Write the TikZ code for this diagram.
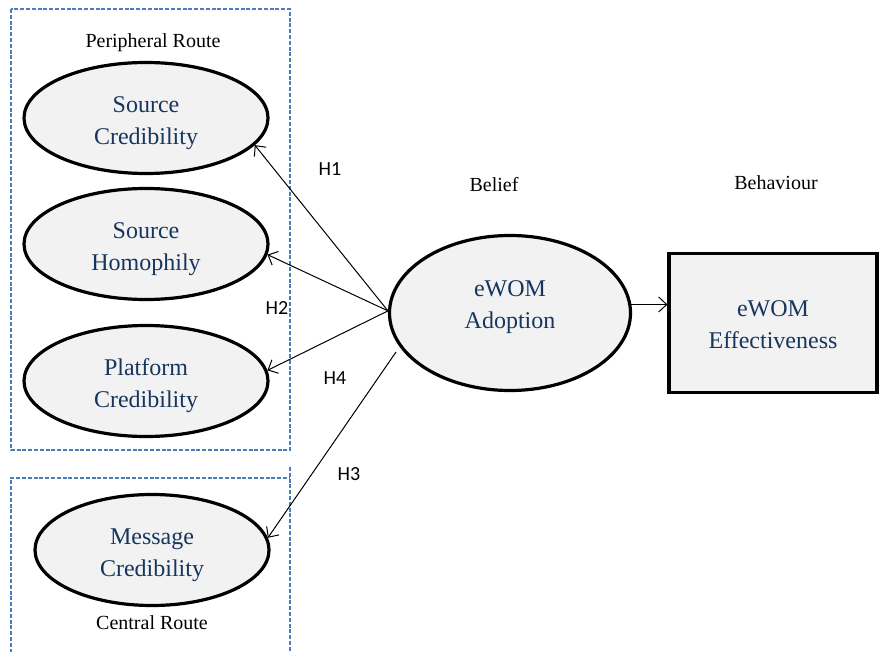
\documentclass[tikz,border=0pt]{standalone}
\usepackage{fontspec}
\setmainfont{Liberation Serif}
\newfontfamily\hypfont{Carlito}
\usetikzlibrary{arrows.meta,shapes.geometric}
\definecolor{routeblue}{RGB}{74,126,187}
\definecolor{constructtext}{RGB}{23,54,93}
\definecolor{constructfill}{RGB}{242,242,242}
\begin{document}
\begin{tikzpicture}[x=1pt, y=-1pt, font=\fontsize{20}{24}\selectfont,
	route/.style={draw=routeblue, dash pattern=on 4pt off 1.8pt, line width=1.3pt},
	construct/.style={ellipse, draw, line width=3.2pt, fill=constructfill, text=constructtext,
		align=center, inner sep=0pt, minimum width=244pt, minimum height=111pt,
		text height=58pt, text depth=5pt, font=\fontsize{24}{32}\selectfont},
	hyp/.style={-{Straight Barb[length=8pt,width=15pt]}, line width=1pt},
	hyplabel/.style={font=\hypfont\fontsize{20}{24}\selectfont}]
	\clip (0,0) rectangle (880,652);
	%route boxes
	\draw[route] (11,9) rectangle (290,450);
	\draw[route] (290,467) -- (290,670) (11,670) -- (11,478) -- (290,478);
	\node (peripheral) at (153,43) {Peripheral Route};
	\node (central) at (152,623) {Central Route};
	%constructs
	\node[construct] (srccred) at (146,118) {Source\\Credibility};
	\node[construct] (srchomo) at (146,244) {Source\\Homophily};
	\node[construct] (platcred) at (146,381) {Platform\\Credibility};
	\node[construct, minimum width=234pt] (msgcred) at (152,550) {Message\\Credibility};
	\node[construct, minimum width=241pt, minimum height=155pt,
		text height=48pt, text depth=17pt] (adopt) at (510,313) {eWOM\\Adoption};
	\node[construct, rectangle, minimum width=208pt, minimum height=139pt,
		text height=55pt] (effect) at (773,323) {eWOM\\Effectiveness};
	\node (belief) at (494,185) {Belief};
	\node (behaviour) at (776,183) {Behaviour};
	%hypotheses
	\coordinate (h3tail) at (396,352);
	\draw[hyp] (adopt.179) -- (srccred.346);
	\draw[hyp] (adopt.179) -- (srchomo.355);
	\draw[hyp] (adopt.179) -- (platcred.5);
	\draw[hyp] (h3tail) -- (msgcred.6);
	\draw[hyp] (adopt.4) -- (adopt.4 -| effect.west);
	\foreach \pos/\htext in {
		{(330,169)}/H1,
		{(277,308)}/H2,
		{(349,474)}/H3,
		{(335,378)}/H4
	}
		\node[hyplabel] (\htext) at \pos {\htext};
\end{tikzpicture}
\end{document}
